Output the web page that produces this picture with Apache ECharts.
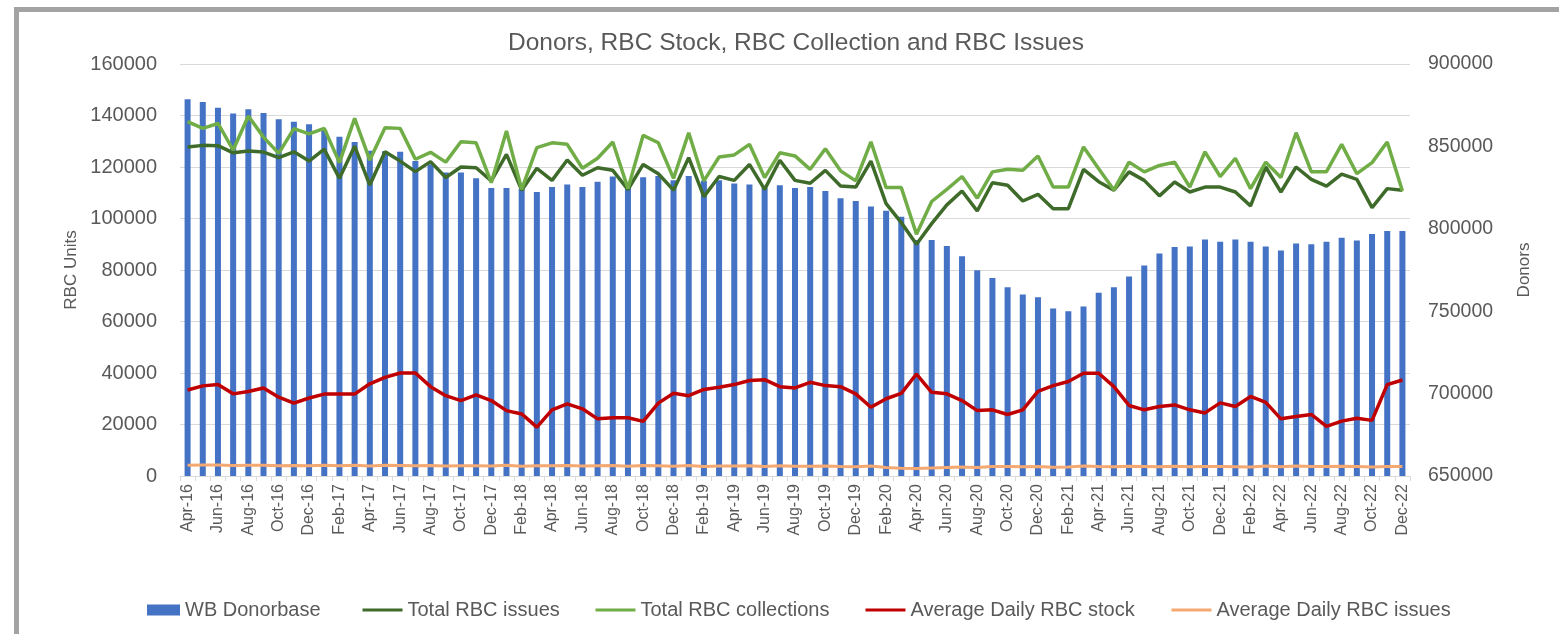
<!DOCTYPE html>
<html>
<head>
<meta charset="utf-8">
<title>Donors, RBC Stock, RBC Collection and RBC Issues</title>
<script src="https://cdn.jsdelivr.net/npm/echarts@6/dist/echarts.min.js"></script>
<style>
	html, body { margin: 0; padding: 0; background: #fff; }
	#main { width: 1559px; height: 634px; }
	.frame {
		position: absolute; left: 14px; top: 7px; right: -10px; bottom: -10px;
		border-left: 5px solid #a3a3a3; border-top: 5px solid #a3a3a3;
		pointer-events: none;
	}
</style>
</head>
<body>
<div id="main"></div>
<div class="frame"></div>
<script>
	// months Apr-16 .. Dec-22
	var months = ['Apr-16', 'May-16', 'Jun-16', 'Jul-16', 'Aug-16', 'Sep-16', 'Oct-16', 'Nov-16', 'Dec-16',
		'Jan-17', 'Feb-17', 'Mar-17', 'Apr-17', 'May-17', 'Jun-17', 'Jul-17', 'Aug-17', 'Sep-17', 'Oct-17', 'Nov-17', 'Dec-17',
		'Jan-18', 'Feb-18', 'Mar-18', 'Apr-18', 'May-18', 'Jun-18', 'Jul-18', 'Aug-18', 'Sep-18', 'Oct-18', 'Nov-18', 'Dec-18',
		'Jan-19', 'Feb-19', 'Mar-19', 'Apr-19', 'May-19', 'Jun-19', 'Jul-19', 'Aug-19', 'Sep-19', 'Oct-19', 'Nov-19', 'Dec-19',
		'Jan-20', 'Feb-20', 'Mar-20', 'Apr-20', 'May-20', 'Jun-20', 'Jul-20', 'Aug-20', 'Sep-20', 'Oct-20', 'Nov-20', 'Dec-20',
		'Jan-21', 'Feb-21', 'Mar-21', 'Apr-21', 'May-21', 'Jun-21', 'Jul-21', 'Aug-21', 'Sep-21', 'Oct-21', 'Nov-21', 'Dec-21',
		'Jan-22', 'Feb-22', 'Mar-22', 'Apr-22', 'May-22', 'Jun-22', 'Jul-22', 'Aug-22', 'Sep-22', 'Oct-22', 'Nov-22', 'Dec-22'];

	// WB Donorbase (right axis)
	var donorbase = [878600, 877000, 873500, 869900, 872500, 870300, 866500, 865000, 863500,
		859800, 855800, 852700, 847300, 847000, 846700, 841200, 839200, 834200, 834200, 830700, 824700,
		824700, 824100, 822400, 825300, 826900, 825300, 828500, 831700, 827100, 831300, 832100, 829500,
		832100, 829100, 829500, 827500, 826900, 824700, 826500, 824700, 825300, 822900, 818600, 816800,
		813600, 810900, 807300, 793200, 793200, 789500, 783300, 774800, 770100, 764500, 760200, 758400,
		751700, 749900, 752900, 761200, 764500, 771100, 777800, 785000, 788900, 789300, 793500, 792100,
		793500, 792100, 789300, 786900, 791100, 790700, 792100, 794600, 792900, 796800, 798600, 798600];

	var rbcIssues = [127800, 128400, 128300, 125500, 126200, 125800, 123600, 125900, 122300,
		126900, 115600, 128100, 113000, 125900, 122300, 118200, 122100, 115900, 120000, 119700, 114600,
		124900, 111000, 119500, 114800, 122700, 116800, 119700, 118700, 111200, 121000, 117400, 111000,
		123600, 108500, 116300, 114800, 121000, 111300, 122600, 114800, 113700, 118700, 112600, 112200,
		122300, 105800, 98400, 90000, 98000, 105300, 110700, 102900, 113900, 112900, 106800, 109400,
		103800, 103800, 119100, 114300, 111000, 118100, 114800, 108800, 114200, 110300, 112200, 112200,
		110300, 104900, 120000, 110300, 120000, 115200, 112600, 117200, 115200, 104200, 111600, 111000];

	var rbcCollections = [137600, 135000, 136900, 126600, 139800, 131600, 125300, 134900, 132900,
		135000, 121700, 138900, 122700, 135200, 135000, 123000, 125700, 121900, 129800, 129400, 113900,
		134000, 111300, 127500, 129400, 128800, 119500, 123400, 129700, 111600, 132300, 129400, 115600,
		133300, 114600, 123900, 124700, 128800, 115900, 125500, 124300, 119100, 127100, 118500, 114600,
		129800, 112000, 112000, 93900, 106600, 111300, 116300, 107900, 118100, 119100, 118700, 124300,
		112200, 112200, 127800, 119300, 111100, 121900, 118100, 120600, 121900, 112200, 125900, 116300,
		123400, 111600, 121900, 115900, 133300, 118200, 118200, 128800, 117400, 121700, 129700, 110700];

	var avgStock = [33400, 35000, 35500, 31900, 32800, 34200, 30600, 28300, 30300,
		31800, 31800, 31800, 35800, 38300, 40000, 40000, 34700, 31200, 29300, 31500, 29300,
		25400, 24100, 19000, 25700, 28000, 26100, 22200, 22600, 22600, 21200, 28300, 32100,
		31200, 33600, 34500, 35500, 37100, 37400, 34700, 34200, 36400, 35100, 34700, 31900,
		26700, 30000, 32100, 39600, 32500, 31900, 29300, 25400, 25700, 23900, 25700, 32900,
		35100, 36700, 39900, 39900, 34700, 27400, 25700, 27000, 27600, 25700, 24500, 28400,
		27000, 30900, 28600, 22200, 23100, 23900, 19300, 21300, 22400, 21600, 35500, 37300];

	var avgIssues = [4200, 4300, 4300, 4100, 4200, 4200, 4000, 4100, 4000,
		4200, 4000, 4200, 3900, 4200, 4100, 4000, 4100, 3900, 4000, 4000, 3900,
		4200, 3800, 4000, 4000, 4100, 3900, 4000, 4100, 3800, 4100, 4000, 3800,
		4100, 3700, 3900, 3900, 4000, 3700, 4000, 3800, 3800, 3900, 3700, 3600,
		3900, 3300, 3000, 2900, 3100, 3300, 3500, 3300, 3700, 3700, 3600, 3700,
		3400, 3500, 3900, 3700, 3600, 3800, 3700, 3600, 3800, 3600, 3700, 3700,
		3600, 3500, 3900, 3600, 3900, 3700, 3700, 3800, 3700, 3500, 3700, 3700];

	var leftTicks = { min: 0, max: 160000, interval: 20000 };
	var rightTicks = { min: 650000, max: 900000, interval: 50000 };

	var font = "'Liberation Sans', Arial, sans-serif";
	var grey = '#595959';

	// one legend per entry so each sits where Excel put it
	function legendAt(name, left, isBar) {
		return {
			left: left,
			top: 600,
			padding: 0,
			itemWidth: isBar ? 33 : 40,
			itemHeight: isBar ? 11 : 10,
			itemGap: 0,
			itemTextGap: 2,
			icon: isBar ? 'rect' : null,
			itemStyle: { opacity: isBar ? 1 : 0 },
			lineStyle: { width: 3 },
			textStyle: { fontFamily: font, fontSize: 20, color: grey },
			data: [name]
		};
	}

	var chart = echarts.init(document.getElementById('main'));
	var option = {
		animation: false,
		title: {
			text: 'Donors, RBC Stock, RBC Collection and RBC Issues',
			left: 508,
			top: 31,
			padding: 0,
			textStyle: { fontFamily: font, fontSize: 24.5, fontWeight: 'normal', color: grey }
		},
		legend: [
			legendAt('WB Donorbase', 147, true),
			legendAt('Total RBC issues', 361),
			legendAt('Total RBC collections', 594),
			legendAt('Average Daily RBC stock', 864),
			legendAt('Average Daily RBC issues', 1170)
		],
		grid: { left: 180, right: 149, top: 64, bottom: 158 },
		xAxis: {
			type: 'category',
			data: months,
			axisLine: { lineStyle: { color: '#d9d9d9' } },
			axisTick: { show: true, interval: 0, length: 5, lineStyle: { color: '#d9d9d9' } },
			axisLabel: { interval: 1, rotate: 90, margin: 8, fontFamily: font, fontSize: 16, color: grey }
		},
		yAxis: [{
				type: 'value',
				name: 'RBC Units',
				nameLocation: 'middle',
				nameGap: 100,
				nameTextStyle: { fontFamily: font, fontSize: 17, color: grey },
				min: leftTicks.min,
				max: leftTicks.max,
				interval: leftTicks.interval,
				axisLabel: {
					margin: 23, fontFamily: font, fontSize: 20, color: grey,
					formatter: function(v) { return String(v); }
				},
				splitLine: { lineStyle: { color: '#d9d9d9' } }
			},
			{
				type: 'value',
				name: 'Donors',
				nameLocation: 'middle',
				nameGap: 106,
				nameTextStyle: { fontFamily: font, fontSize: 17, color: grey },
				min: rightTicks.min,
				max: rightTicks.max,
				interval: rightTicks.interval,
				axisLabel: {
					margin: 18, fontFamily: font, fontSize: 19.5, color: grey,
					formatter: function(v) { return String(v); }
				},
				splitLine: { show: false }
			}
		],
		series: [{
				name: 'WB Donorbase',
				type: 'bar',
				yAxisIndex: 1,
				barWidth: 6,
				itemStyle: { color: '#4472c4' },
				data: donorbase
			},
			{
				name: 'Total RBC issues',
				type: 'line',
				symbol: 'none',
				lineStyle: { width: 3.5, color: '#3f6b2a' },
				itemStyle: { color: '#3f6b2a' },
				data: rbcIssues
			},
			{
				name: 'Total RBC collections',
				type: 'line',
				symbol: 'none',
				lineStyle: { width: 3.5, color: '#70ad47' },
				itemStyle: { color: '#70ad47' },
				data: rbcCollections
			},
			{
				name: 'Average Daily RBC stock',
				type: 'line',
				symbol: 'none',
				lineStyle: { width: 3.5, color: '#c00000' },
				itemStyle: { color: '#c00000' },
				data: avgStock
			},
			{
				name: 'Average Daily RBC issues',
				type: 'line',
				symbol: 'none',
				lineStyle: { width: 3, color: '#f4a872' },
				itemStyle: { color: '#f4a872' },
				data: avgIssues
			}
		]
	};
	chart.setOption(option);
</script>
</body>
</html>
